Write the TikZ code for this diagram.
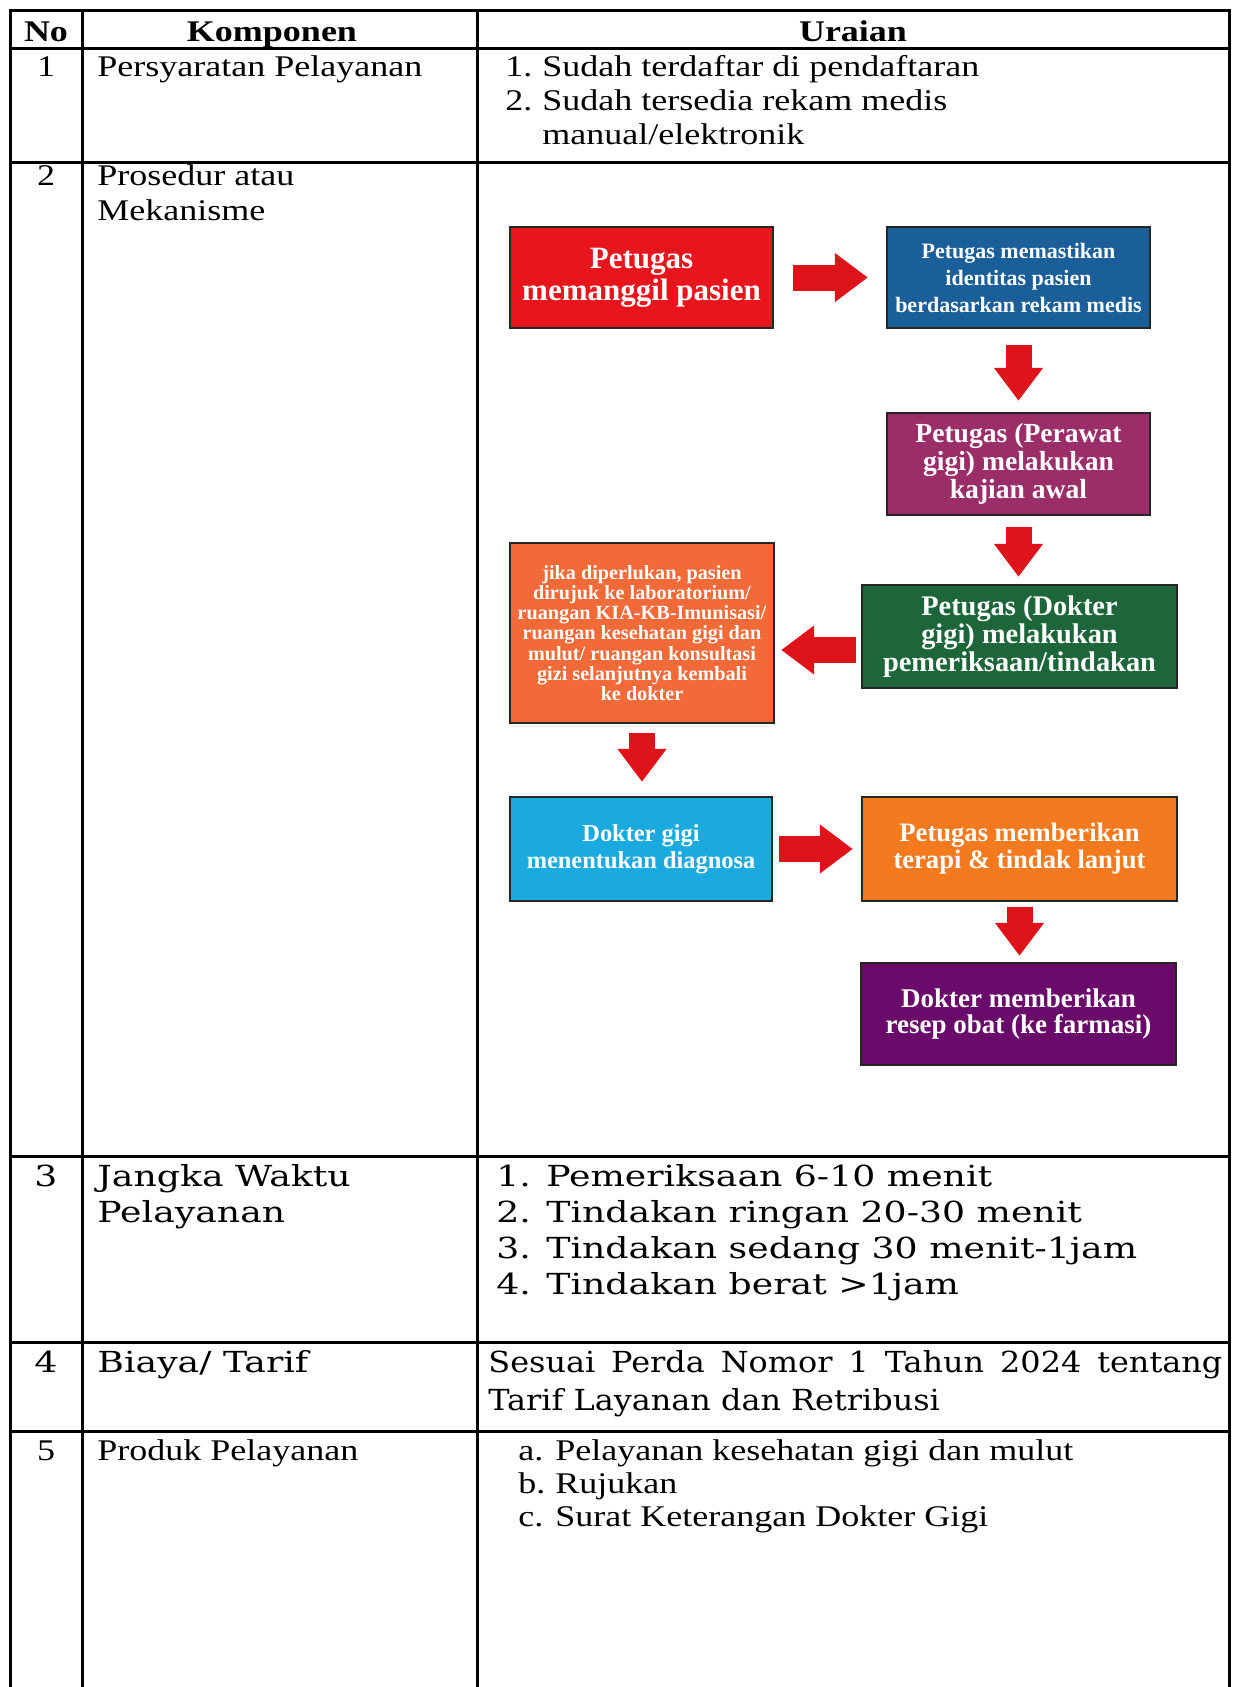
\documentclass[tikz,border=0pt]{standalone}
\usepackage{fontspec}
\setmainfont{Liberation Serif}[FakeStretch=1.2]
\newfontfamily\bookfont{DejaVu Serif}[FakeStretch=1.25]
\newfontfamily\bookfontn{DejaVu Serif}[FakeStretch=1.1]
\newfontfamily\flowfont{Liberation Serif}
\usetikzlibrary{arrows.meta,calc}
\definecolor{cA}{RGB}{232,22,28}
\definecolor{cB}{RGB}{26,94,154}
\definecolor{cC}{RGB}{155,45,105}
\definecolor{cD}{RGB}{28,102,58}
\definecolor{cE}{RGB}{242,106,56}
\definecolor{cF}{RGB}{26,170,224}
\definecolor{cG}{RGB}{244,122,32}
\definecolor{cH}{RGB}{106,10,106}
\definecolor{arrowred}{RGB}{222,20,26}
\begin{document}
\begin{tikzpicture}[x=0.5pt,y=-0.5pt,
  tbl/.style={line width=1.5pt,black},
  cell/.style={inner sep=0pt,anchor=base west,font=\fontsize{15}{18}\selectfont},
  num/.style={inner sep=0pt,anchor=base,font=\fontsize{15}{18}\selectfont},
  hdr/.style={inner sep=0pt,anchor=base,font=\bfseries\fontsize{15}{18}\selectfont},
  bcell/.style={inner sep=0pt,anchor=base west,font=\bookfont\fontsize{14.5}{18}\selectfont},
  bcelln/.style={inner sep=0pt,anchor=base west,font=\bookfontn\fontsize{14.5}{18}\selectfont},
  bnum/.style={inner sep=0pt,anchor=base,font=\bookfont\fontsize{14.5}{18}\selectfont},
  fbox/.style={draw=black!85,line width=1.2pt,text=white,align=center,inner sep=0pt},
  flow/.style={line width=13pt,draw=arrowred,-{Triangle[length=16.5pt,width=23.5pt]}}]
\useasboundingbox (0,0) rectangle (1235,1687);
% table grid
\draw[tbl] (10,10) -- (1229,10);
\draw[tbl] (10,48) -- (1229,48);
\draw[tbl] (10,162) -- (1229,162);
\draw[tbl] (10,1156) -- (1229,1156);
\draw[tbl] (10,1342) -- (1229,1342);
\draw[tbl] (10,1431) -- (1229,1431);
\draw[tbl] (10,9.25) -- (10,1687);
\draw[tbl] (82,10) -- (82,1687);
\draw[tbl] (477,10) -- (477,1687);
\draw[tbl] (1229,9.25) -- (1229,1687);
% header
\node[hdr] (hNo) at (46,41) {No};
\node[hdr] (hKomp) at (272,41) {Komponen};
\node[hdr] (hUr) at (853,41) {Uraian};
% row 1
\node[num] (n1) at (46,76) {1};
\node[cell] (k1) at (97,76) {Persyaratan Pelayanan};
\node[cell] (u1a) at (505,76) {1.};
\node[cell] (u1at) at (542,76) {Sudah terdaftar di pendaftaran};
\node[cell] (u1b) at (505,110) {2.};
\node[cell] (u1bt) at (542,110) {Sudah tersedia rekam medis};
\node[cell] (u1c) at (542,144) {manual/elektronik};
% row 2
\node[num] (n2) at (46,185) {2};
\node[cell] (k2a) at (97,185) {Prosedur atau};
\node[cell] (k2b) at (97,220) {Mekanisme};
% flowchart boxes
\node[fbox,fill=cA,minimum width=131.5pt,minimum height=50.5pt,
  font=\flowfont\bfseries\fontsize{15.5}{16}\selectfont] (A) at (641.5,277.5) {Petugas\\memanggil pasien};
\node[fbox,fill=cB,minimum width=131.5pt,minimum height=50.5pt,
  font=\flowfont\bfseries\fontsize{11}{13.5}\selectfont] (B) at (1018.5,277.5) {Petugas memastikan\\identitas pasien\\berdasarkan rekam medis};
\node[fbox,fill=cC,minimum width=131.5pt,minimum height=51pt,
  font=\flowfont\bfseries\fontsize{13.8}{14}\selectfont] (C) at (1018.5,464) {Petugas (Perawat\\gigi) melakukan\\kajian awal};
\node[fbox,fill=cD,minimum width=157.5pt,minimum height=51.5pt,
  font=\flowfont\bfseries\fontsize{14.2}{14}\selectfont] (D) at (1019.5,636.5) {Petugas (Dokter\\gigi) melakukan\\pemeriksaan/tindakan};
\node[fbox,fill=cE,minimum width=132pt,minimum height=90pt,
  font=\flowfont\bfseries\fontsize{10.1}{10.1}\selectfont] (E) at (642,633) {jika diperlukan, pasien\\dirujuk ke laboratorium/\\ruangan KIA-KB-Imunisasi/\\ruangan kesehatan gigi dan\\mulut/ ruangan konsultasi\\gizi selanjutnya kembali\\ke dokter};
\node[fbox,fill=cF,minimum width=131pt,minimum height=52pt,
  font=\flowfont\bfseries\fontsize{12.2}{13.5}\selectfont] (F) at (641,849) {Dokter gigi\\menentukan diagnosa};
\node[fbox,fill=cG,minimum width=157.5pt,minimum height=52pt,
  font=\flowfont\bfseries\fontsize{13.3}{13.5}\selectfont] (G) at (1019.5,849) {Petugas memberikan\\terapi \& tindak lanjut};
\node[fbox,fill=cH,minimum width=157.5pt,minimum height=51pt,
  font=\flowfont\bfseries\fontsize{13.5}{12.8}\selectfont] (H) at (1018.5,1014) {Dokter memberikan\\resep obat (ke farmasi)};
% arrows
\draw[flow] ($(A.east)+(19,0)$) -- ($(B.west)+(-18,0)$);
\draw[flow] ($(B.south)+(0,16)$) -- ($(C.north)+(0,-11)$);
\draw[flow] ($(C.south)+(0,11)$) -- ($(C.south |- D.north)+(0,-7)$);
\coordinate (dstart) at ($(D.west)+(-5,13.5)$);
\draw[flow] (dstart) -- ($(E.east |- dstart)+(6,0)$);
\draw[flow] ($(E.south)+(0,9)$) -- ($(E.south |- F.north)+(0,-14)$);
\draw[flow] ($(F.east)+(6,0)$) -- ($(G.west |- F.east)+(-8,0)$);
\draw[flow] ($(G.south)+(0,5)$) -- ($(G.south |- H.north)+(0,-6)$);
% row 3
\node[bnum] (n3) at (46,1186) {3};
\node[bcell] (k3a) at (97,1186) {Jangka Waktu};
\node[bcell] (k3b) at (97,1222) {Pelayanan};
\node[bcell] (u3a) at (496,1186) {1. Pemeriksaan 6-10 menit};
\node[bcell] (u3b) at (496,1222) {2. Tindakan ringan 20-30 menit};
\node[bcell] (u3c) at (496,1258) {3. Tindakan sedang 30 menit-1jam};
\node[bcell] (u3d) at (496,1294) {4. Tindakan berat >1jam};
% row 4
\node[bnum] (n4) at (46,1372) {4};
\node[bcell] (k4) at (97,1372) {Biaya/ Tarif};
\node[bcelln] (u4a) at (488,1372) {\makebox[367pt][s]{Sesuai Perda Nomor 1 Tahun 2024 tentang}};
\node[bcelln] (u4b) at (488,1410) {Tarif Layanan dan Retribusi};
% row 5
\node[num] (n5) at (46,1460) {5};
\node[cell] (k5) at (97,1460) {Produk Pelayanan};
\node[cell] (u5a) at (518,1460) {a.};
\node[cell] (u5at) at (555,1460) {Pelayanan kesehatan gigi dan mulut};
\node[cell] (u5b) at (518,1493) {b.};
\node[cell] (u5bt) at (555,1493) {Rujukan};
\node[cell] (u5c) at (518,1526) {c.};
\node[cell] (u5ct) at (555,1526) {Surat Keterangan Dokter Gigi};
\end{tikzpicture}
\end{document}
